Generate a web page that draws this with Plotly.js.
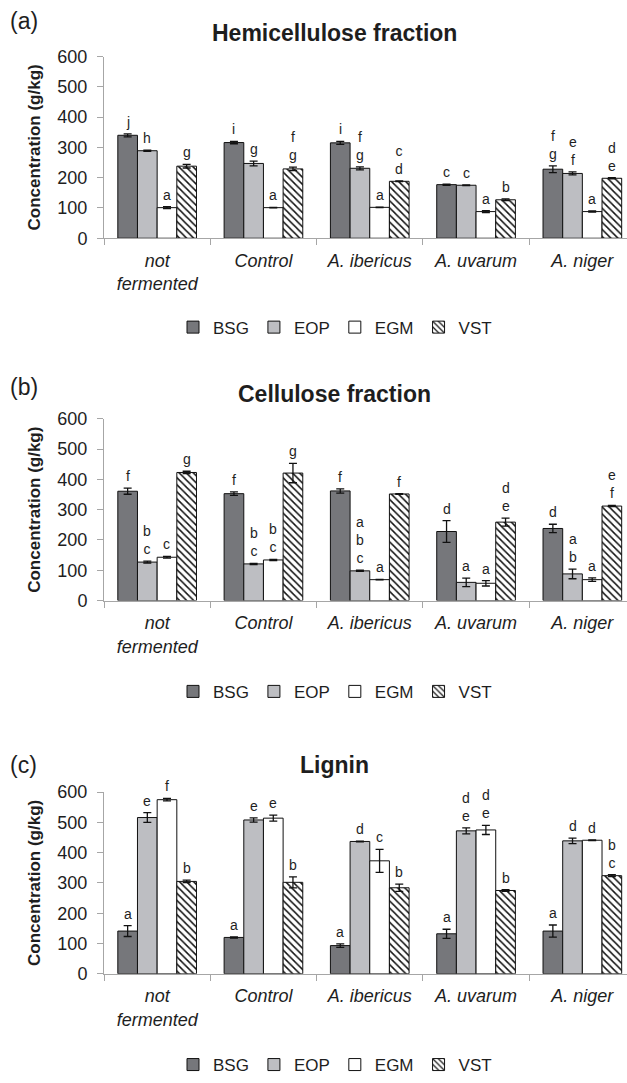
<!DOCTYPE html>
<html>
<head>
<meta charset="utf-8">
<script src="https://cdn.plot.ly/plotly-3.0.1.min.js"></script>
<style>html,body{margin:0;padding:0;background:#fff;}#chart{width:627px;height:1083px;}</style>
</head>
<body>
<div id="chart"></div>
<script>
// ---------- DATA ----------
const categories = ['not<br>fermented', 'Control', 'A. ibericus', 'A. uvarum', 'A. niger'];
const series = ['BSG', 'EOP', 'EGM', 'VST'];
const panelTitles = ['Hemicellulose fraction', 'Cellulose fraction', 'Lignin'];
const panelTags = ['(a)', '(b)', '(c)'];
const yTicks = [0, 100, 200, 300, 400, 500, 600];

// (a) Hemicellulose fraction, rows = BSG, EOP, EGM, VST
const hemiVal = [
  [340, 316, 315, 177, 228],
  [289, 247, 231, 175, 214],
  [101, 101, 102, 88, 88],
  [238, 229, 188, 127, 198]
];
const hemiErr = [
  [5, 4, 5, 2, 11],
  [2, 8, 5, 1, 5],
  [3, 1, 1, 3, 2],
  [6, 6, 1, 3, 2]
];
const hemiLet = [
  ['j', 'i', 'i', 'c', 'f<br>g'],
  ['h', 'g', 'f<br>g', 'c', 'e<br>f'],
  ['a', 'a', 'a', 'a', 'a'],
  ['g', 'f<br>g', 'c<br>d', 'b', 'd<br>e']
];

// (b) Cellulose fraction
const celluVal = [
  [361, 353, 362, 228, 238],
  [127, 121, 98, 60, 88],
  [143, 134, 69, 57, 69],
  [423, 421, 352, 259, 312]
];
const celluErr = [
  [10, 6, 7, 36, 14],
  [3, 2, 2, 14, 16],
  [3, 2, 1, 9, 6],
  [4, 32, 1, 13, 2]
];
const celluLet = [
  ['f', 'f', 'f', 'd', 'd'],
  ['b<br>c', 'b<br>c', 'a<br>b<br>c', 'a', 'a<br>b'],
  ['c', 'b<br>c', 'a', 'a', 'a'],
  ['g', 'g', 'f', 'd<br>e', 'e<br>f']
];

// (c) Lignin
const ligVal = [
  [141, 120, 93, 132, 141],
  [516, 508, 437, 472, 439],
  [575, 514, 373, 475, 441],
  [305, 302, 284, 275, 324]
];
const ligErr = [
  [18, 2, 6, 15, 20],
  [16, 7, 1, 10, 9],
  [4, 10, 38, 15, 1],
  [4, 18, 12, 3, 3]
];
const ligLet = [
  ['a', 'a', 'a', 'a', 'a'],
  ['e', 'e', 'd', 'd<br>e', 'd'],
  ['f', 'e', 'c', 'd<br>e', 'd'],
  ['b', 'b', 'b', 'b', 'b<br>c']
];

// ---------- STYLE ----------
const FONT = 'Liberation Sans, Arial, Helvetica, sans-serif';
const TXT = '#1e1e1e';
const AXC = '#a6a6a6';
const fills = ['#76777b', '#bdbec2', '#ffffff', '#ffffff'];
const W = 627, H = 1083, ML = 104;
const BARGAP = 0.26;
// pixel geometry of each panel: y of value 0 and value 600, title, tag, legend
const panelPx = [
  {zero: 240, top: 57, title: 33, tag: 21, legend: 330},
  {zero: 605, top: 422, title: 397, tag: 390, legend: 697},
  {zero: 981, top: 798, title: 771, tag: 771, legend: 1073}
];
const panelVal = [hemiVal, celluVal, ligVal];
const panelErr = [hemiErr, celluErr, ligErr];
const panelLet = [hemiLet, celluLet, ligLet];

const py = px => (H - px) / H;          // pixel y -> paper y
const pxX = px => (px - ML) / (W - ML);  // pixel x -> paper x

const traces = [];
const annotations = [];
const layout = {
  width: W, height: H,
  margin: {l: ML, r: 0, t: 0, b: 0},
  paper_bgcolor: '#fff', plot_bgcolor: '#fff',
  barmode: 'group', bargap: BARGAP, bargroupgap: 0,
  font: {family: FONT, color: TXT, size: 14},
  hovermode: false,
  annotations: annotations
};

const groupW = 1 - BARGAP, barW = groupW / series.length;

for (let p = 0; p < 3; p++) {
  const sfx = p === 0 ? '' : String(p + 1);
  const geo = panelPx[p];
  for (let s = 0; s < series.length; s++) {
    const tr = {
      type: 'bar', name: series[s],
      x: categories, y: panelVal[p][s],
      xaxis: 'x' + sfx, yaxis: 'y' + sfx,
      legend: 'legend' + sfx,
      marker: {color: fills[s], line: {color: '#111', width: 1}},
      error_y: {type: 'data', array: panelErr[p][s], visible: true, color: '#111', thickness: 1.3, width: 4}
    };
    if (s === 3) {
      tr.marker.pattern = {shape: '\\', fgcolor: '#111', bgcolor: '#fff', size: 5, solidity: 0.3};
    }
    traces.push(tr);
    // significance letters above the error bars
    for (let c = 0; c < categories.length; c++) {
      annotations.push({
        xref: 'x' + sfx, yref: 'y' + sfx,
        x: c - groupW / 2 + (s + 0.5) * barW,
        y: panelVal[p][s][c] + panelErr[p][s][c],
        text: panelLet[p][s][c], showarrow: false,
        xanchor: 'center', yanchor: 'bottom', yshift: 2,
        font: {family: FONT, size: 14, color: TXT}
      });
    }
  }
  layout['xaxis' + sfx] = {
    anchor: 'y' + sfx, domain: [0, 1], type: 'category',
    range: [-0.5, 4.42],
    showline: true, linecolor: AXC, linewidth: 1,
    ticks: 'outside', tickson: 'boundaries', ticklen: 6, tickcolor: AXC,
    tickfont: {family: FONT, size: 18, color: TXT, style: 'italic'},
    ticklabelstandoff: 6,
    showgrid: false, zeroline: false, fixedrange: true
  };
  layout['yaxis' + sfx] = {
    anchor: 'x' + sfx, domain: [py(geo.zero), py(geo.top)],
    range: [0, 600], tickvals: yTicks,
    showline: true, linecolor: AXC, linewidth: 1,
    ticks: 'outside', ticklen: 6, tickcolor: AXC,
    tickfont: {family: FONT, size: 18, color: TXT},
    ticklabelstandoff: 6,
    showgrid: false, zeroline: false, fixedrange: true,
    title: {text: 'Concentration (g/kg)', font: {family: FONT, size: 17, color: TXT, weight: 'bold'}, standoff: 12}
  };
  layout['legend' + sfx] = {
    orientation: 'h', x: pxX(335), xanchor: 'center',
    y: py(geo.legend), yanchor: 'middle',
    font: {family: FONT, size: 17, color: TXT},
    itemwidth: 30, bgcolor: 'rgba(0,0,0,0)', traceorder: 'normal'
  };
  annotations.push({
    xref: 'paper', yref: 'paper', x: pxX(334), y: py(geo.title),
    text: '<b>' + panelTitles[p] + '</b>', showarrow: false,
    xanchor: 'center', yanchor: 'middle',
    font: {family: FONT, size: 23, color: TXT}
  });
  annotations.push({
    xref: 'paper', yref: 'paper', x: pxX(8), y: py(geo.tag),
    text: panelTags[p], showarrow: false,
    xanchor: 'left', yanchor: 'middle',
    font: {family: FONT, size: 23, color: TXT}
  });
}

Plotly.newPlot('chart', traces, layout, {staticPlot: true, displayModeBar: false});
</script>
</body>
</html>
